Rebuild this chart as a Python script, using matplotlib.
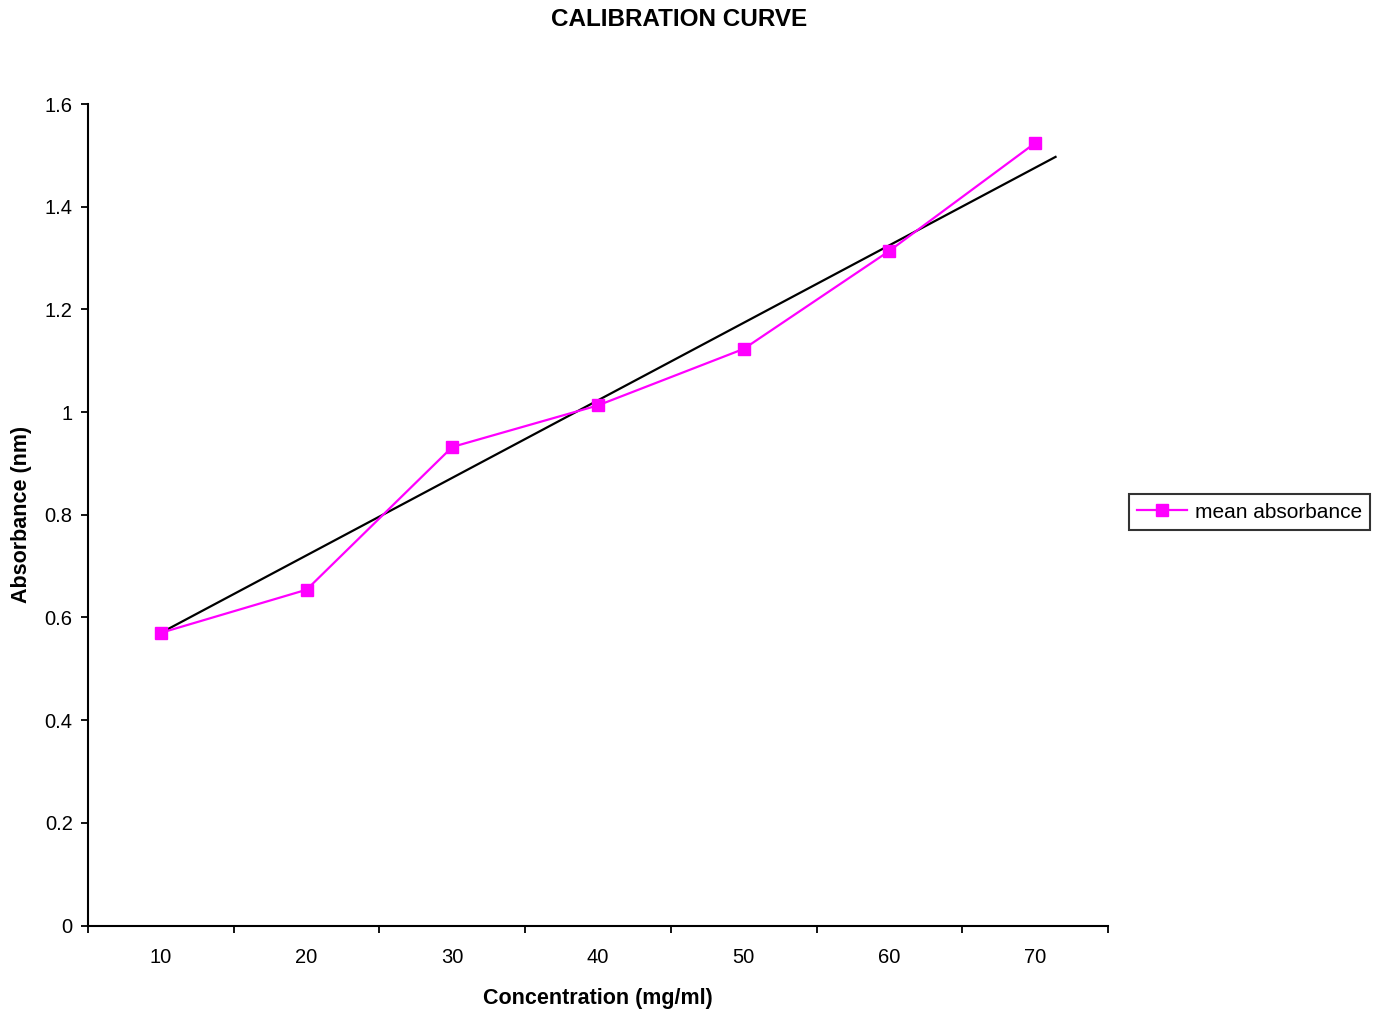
import matplotlib
matplotlib.use("Agg")
import matplotlib.pyplot as plt
import numpy as np

plt.rcParams['font.family'] = ['Liberation Sans', 'DejaVu Sans']

categories = ["10", "20", "30", "40", "50", "60", "70"]
mean_absorbance = [0.570, 0.654, 0.932, 1.013, 1.123, 1.314, 1.524]
# trend line endpoints (category position, absorbance)
trend_pos = [1.0, 7.14]
trend_val = [0.570, 1.497]
y_ticks = [0, 0.2, 0.4, 0.6, 0.8, 1.0, 1.2, 1.4, 1.6]
y_tick_labels = ["0", "0.2", "0.4", "0.6", "0.8", "1", "1.2", "1.4", "1.6"]

fig = plt.figure(figsize=(13.84, 10.15), dpi=100)
ax = fig.add_axes([88/1384, 1-925.5/1015, (1108-88)/1384, (925.5-104)/1015])

x = np.arange(1, len(categories) + 1)
line, = ax.plot(x, mean_absorbance, color='#FF00FF', lw=1.6, marker='s',
                markersize=8, markerfacecolor='#FF00FF', markeredgecolor='#FF00FF',
                label='mean absorbance', zorder=3)
ax.plot(trend_pos, trend_val, color='black', lw=1.6, zorder=2)

ax.set_xlim(0.5, len(categories) + 0.5)
ax.set_ylim(0, 1.6)
ax.set_yticks(y_ticks)
ax.set_yticklabels(y_tick_labels, fontsize=14.5)
ax.set_xticks(np.arange(0.5, len(categories) + 1, 1.0))
ax.set_xticklabels([])
ax.set_xticks(x, minor=True)
ax.set_xticklabels(categories, minor=True, fontsize=14.5)
ax.tick_params(axis='x', which='major', direction='out', length=5, width=1.3)
ax.tick_params(axis='x', which='minor', length=0, pad=16)
ax.tick_params(axis='y', direction='out', length=5, width=1.3, pad=6)

for s in ['top', 'right']:
    ax.spines[s].set_visible(False)
for s in ['left', 'bottom']:
    ax.spines[s].set_linewidth(1.5)

ax.set_xlabel('Concentration (mg/ml)', fontsize=15.5, fontweight='bold', labelpad=15)
ax.set_ylabel('Absorbance (nm)', fontsize=15.5, fontweight='bold', labelpad=9)
fig.text(679/1384, 1-20/1015, 'CALIBRATION CURVE', fontsize=17.5, fontweight='bold',
         ha='center', va='center')

leg = fig.legend(handles=[line], loc='center left',
                 bbox_to_anchor=(1129/1384, 1-512/1015), fontsize=15,
                 frameon=True, fancybox=False, edgecolor='black',
                 borderaxespad=0, handlelength=2.4, handletextpad=0.35,
                 borderpad=0.4)
leg.get_frame().set_linewidth(1.5)

fig.savefig('out.png', dpi=100)
